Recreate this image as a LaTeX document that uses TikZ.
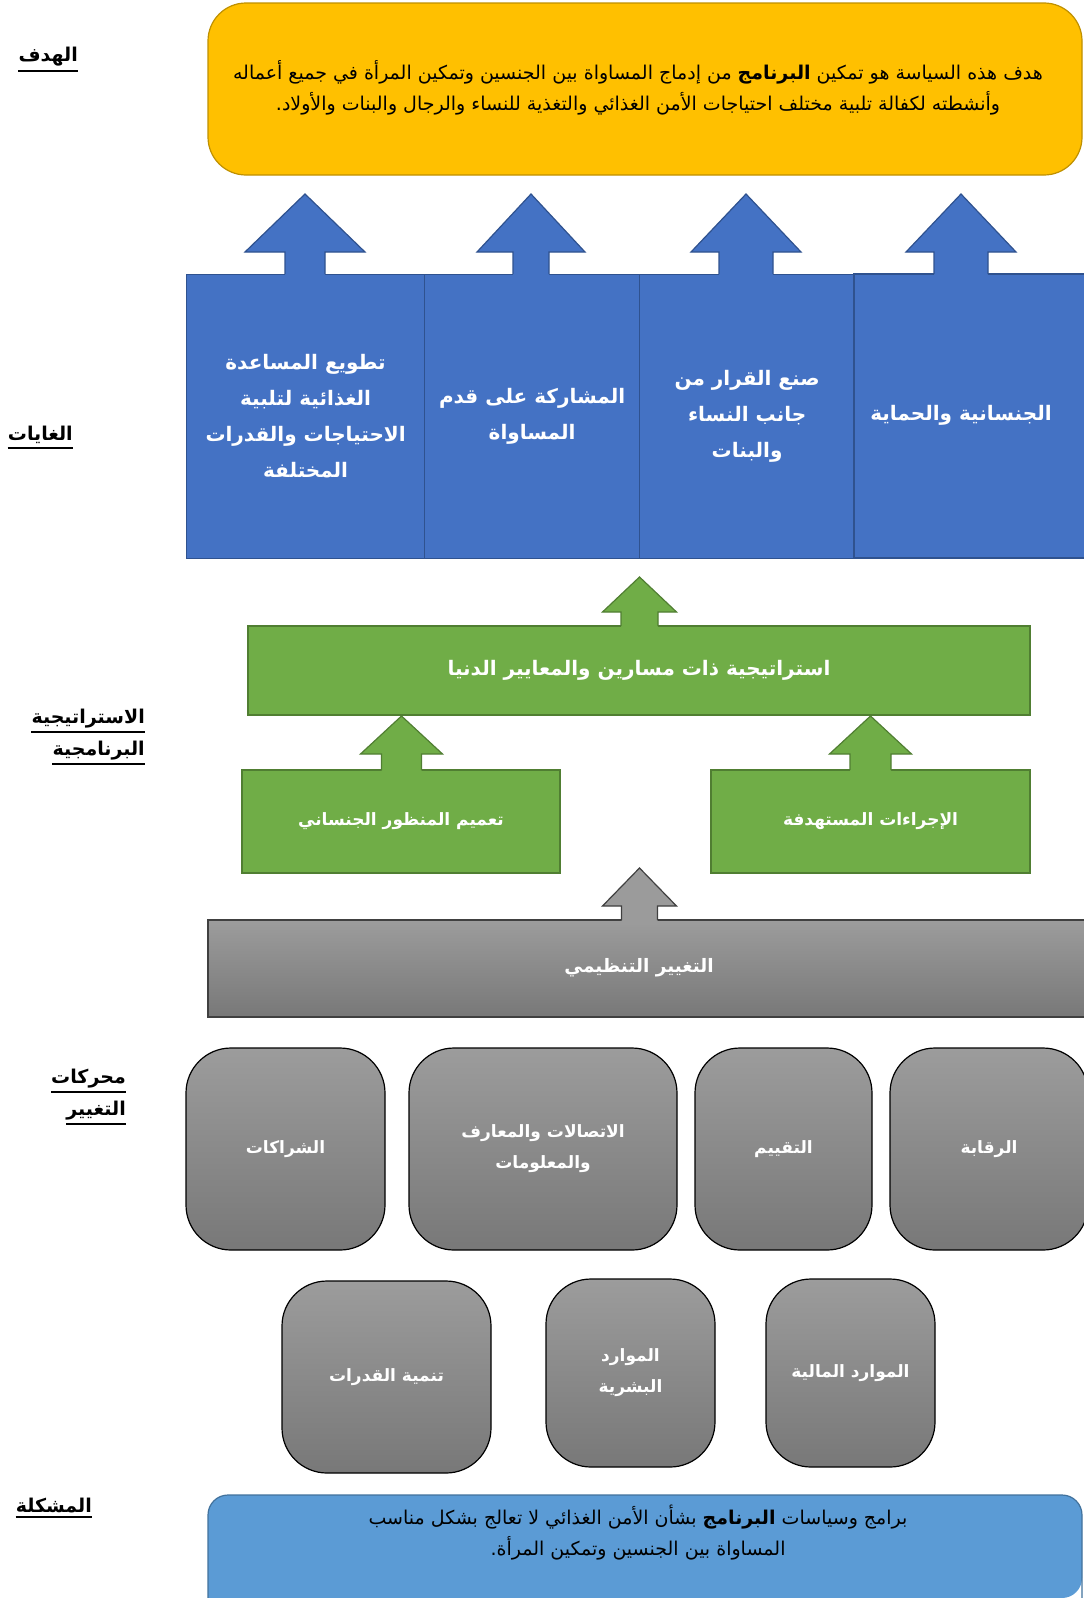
\documentclass[tikz,border=0pt]{standalone}
\usepackage{fontspec}
\newfontfamily\arabicfont[Script=Arabic]{DejaVu Sans}
\TeXXeTstate=1
\newcommand\arline[1]{\beginR#1\endR}
\definecolor{goalfill}{HTML}{FFC000}
\definecolor{goalline}{HTML}{BF9000}
\definecolor{colfill}{HTML}{4472C4}
\definecolor{colline}{HTML}{2F528F}
\definecolor{grfill}{HTML}{70AD47}
\definecolor{grline}{HTML}{507E32}
\definecolor{gtop}{HTML}{9C9C9C}
\definecolor{gbot}{HTML}{787878}
\definecolor{gline}{HTML}{404040}
\definecolor{probfill}{HTML}{5B9BD5}
\definecolor{probline}{HTML}{41719C}
\newcommand\uparrowblk[8]{%
 \fill[#1] (#3,#4) -- ({#3+#7},#5) -- ({#3+#8},#5) -- ({#3+#8},{#6+1.5}) -- ({#3-#8},{#6+1.5}) -- ({#3-#8},#5) -- ({#3-#7},#5) -- cycle;
 \draw[#2,line width=1.2pt,line join=miter] ({#3-#8},#6) -- ({#3-#8},#5) -- ({#3-#7},#5) -- (#3,#4) -- ({#3+#7},#5) -- ({#3+#8},#5) -- ({#3+#8},#6);
}
\tikzset{
 lbl/.style={font=\arabicfont\bfseries\fontsize{19}{23}\selectfont, inner sep=0pt, anchor=east},
 ul/.style={line width=2pt},
 goalbox/.style={fill=goalfill, draw=goalline, line width=1.2pt, rounded corners=38pt},
 probbox/.style={fill=probfill, draw=probline, line width=1.2pt, rounded corners=20pt},
 bodytxt/.style={font=\arabicfont\fontsize{19}{31}\selectfont, align=center, inner sep=0pt, text=black},
 colbox/.style={fill=colfill, draw=colline, line width=1.2pt, inner sep=0pt, anchor=north west, text=white,
   font=\arabicfont\bfseries\fontsize{20}{36}\selectfont, align=center},
 greenbox/.style={fill=grfill, draw=grline, line width=1.2pt, inner sep=0pt, text=white,
   font=\arabicfont\bfseries\fontsize{17}{30}\selectfont, align=center},
 drvbox/.style={top color=gtop, bottom color=gbot, draw=black, line width=1.2pt, inner sep=0pt,
   rounded corners=45pt, text=white, font=\arabicfont\bfseries\fontsize{17}{31}\selectfont, align=center},
 whitetxt/.style={text=white, inner sep=0pt, align=center},
}
\begin{document}
\begin{tikzpicture}[x=1pt,y=-1pt]
\useasboundingbox (0,0) rectangle (1084,1598);
\begin{scope}
\clip (0,0) rectangle (1084,1598);

% ---------- left labels
\node[lbl] (lHadaf) at (78,57) {\arline{الهدف}};
\draw[ul] ([yshift=-4pt]lHadaf.south west) -- ([yshift=-4pt]lHadaf.south east);
\node[lbl] (lGhayat) at (73,435) {\arline{الغايات}};
\draw[ul] ([yshift=-4pt]lGhayat.south west) -- ([yshift=-4pt]lGhayat.south east);
\node[lbl] (lStrat1) at (145,719) {\arline{الاستراتيجية}};
\draw[ul] ([yshift=-3pt]lStrat1.south west) -- ([yshift=-3pt]lStrat1.south east);
\node[lbl] (lStrat2) at (145,751) {\arline{البرنامجية}};
\draw[ul] ([yshift=-3pt]lStrat2.south west) -- ([yshift=-3pt]lStrat2.south east);
\node[lbl] (lDrv1) at (126,1079) {\arline{محركات}};
\draw[ul] ([yshift=-3pt]lDrv1.south west) -- ([yshift=-3pt]lDrv1.south east);
\node[lbl] (lDrv2) at (126,1111) {\arline{التغيير}};
\draw[ul] ([yshift=-3pt]lDrv2.south west) -- ([yshift=-3pt]lDrv2.south east);
\node[lbl] (lProb) at (92,1505) {\arline{المشكلة}};
\draw[ul] ([yshift=-4pt]lProb.south west) -- ([yshift=-4pt]lProb.south east);

% ---------- goal
\draw[goalbox] (208,3) rectangle (1082,175);
\node[bodytxt] (goal) at (638,88) {\arline{هدف هذه السياسة هو تمكين {\bfseries البرنامج} من إدماج المساواة بين الجنسين وتمكين المرأة في جميع أعماله}\\
\arline{وأنشطته لكفالة تلبية مختلف احتياجات الأمن الغذائي والتغذية للنساء والرجال والبنات والأولاد.}};

% ---------- goals columns
\node[colbox, minimum width=238pt, minimum height=284pt] (c1) at (186,274)
 {\arline{تطويع المساعدة}\\\arline{الغذائية لتلبية}\\\arline{الاحتياجات والقدرات}\\\arline{المختلفة}};
\node[colbox, minimum width=215pt, minimum height=284pt] (c2) at (424,274)
 {\arline{المشاركة على قدم}\\\arline{المساواة}};
\node[colbox, minimum width=215pt, minimum height=284pt] (c3) at (639,274)
 {\arline{صنع القرار من}\\\arline{جانب النساء}\\\arline{والبنات}};
\fill[colfill] (854,274) rectangle (1084,558);
\draw[colline, line width=1.2pt] (1084,274) -- (854,274) -- (854,558) -- (1084,558);
\node[whitetxt, font=\arabicfont\bfseries\fontsize{20}{36}\selectfont] (c4) at (961,415) {\arline{الجنسانية والحماية}};

\uparrowblk{colfill}{colline}{305}{194}{252}{274}{60}{20}
\uparrowblk{colfill}{colline}{531}{194}{252}{274}{54}{18}
\uparrowblk{colfill}{colline}{746}{194}{252}{274}{55}{27}
\uparrowblk{colfill}{colline}{961}{194}{252}{274}{55}{27}

% ---------- strategy
\node[greenbox, font=\arabicfont\bfseries\fontsize{20}{30}\selectfont, minimum width=782pt, minimum height=89pt] (s0) at (639,670.5)
 {\arline{استراتيجية ذات مسارين والمعايير الدنيا}};
\node[greenbox, minimum width=318pt, minimum height=103pt] (s1) at (401,821.5)
 {\arline{تعميم المنظور الجنساني}};
\node[greenbox, minimum width=319pt, minimum height=103pt] (s2) at (870.5,821.5)
 {\arline{الإجراءات المستهدفة}};
\uparrowblk{grfill}{grline}{639.5}{577}{612}{626}{37}{18.5}
\uparrowblk{grfill}{grline}{401.5}{716}{754}{770}{41}{20}
\uparrowblk{grfill}{grline}{870.5}{716}{754}{770}{41}{20.5}

% ---------- organisational change
\shade[top color=gtop, bottom color=gbot] (208,920) rectangle (1084,1017);
\draw[gline, line width=1.2pt] (1084,920) -- (208,920) -- (208,1017) -- (1084,1017);
\node[whitetxt, font=\arabicfont\bfseries\fontsize{18.5}{30}\selectfont] (oc) at (639,968) {\arline{التغيير التنظيمي}};
\fill[gtop!97!gbot] (639.5,868) -- (676.5,906) -- (657.5,906) -- (657.5,921.5) -- (621.5,921.5) -- (621.5,906) -- (602.5,906) -- cycle;
\draw[gline,line width=1.2pt,line join=miter] (621.5,920) -- (621.5,906) -- (602.5,906) -- (639.5,868) -- (676.5,906) -- (657.5,906) -- (657.5,920);

% ---------- drivers
\node[drvbox, minimum width=199pt, minimum height=202pt] (d1) at (285.5,1149) {\arline{الشراكات}};
\node[drvbox, minimum width=268pt, minimum height=202pt] (d2) at (543,1149) {\arline{الاتصالات والمعارف}\\\arline{والمعلومات}};
\node[drvbox, minimum width=177pt, minimum height=202pt] (d3) at (783.5,1149) {\arline{التقييم}};
\node[drvbox, minimum width=198pt, minimum height=202pt] (d4) at (989,1149) {\arline{الرقابة}};
\node[drvbox, minimum width=209pt, minimum height=192pt] (e1) at (386.5,1377) {\arline{تنمية القدرات}};
\node[drvbox, minimum width=169pt, minimum height=188pt] (e2) at (630.5,1373) {\arline{الموارد}\\\arline{البشرية}};
\node[drvbox, minimum width=169pt, minimum height=188pt] (e3) at (850.5,1373) {\arline{الموارد المالية}};

% ---------- problem
\fill[probfill, rounded corners=20pt] (208,1598) -- (208,1495) -- (1082,1495) -- (1082,1598) [sharp corners] -- cycle;
\draw[probline, line width=1.2pt, rounded corners=20pt] (208,1598) -- (208,1495) -- (1082,1495) -- (1082,1598);
\node[bodytxt] (prob) at (638,1533) {\arline{برامج وسياسات {\bfseries البرنامج} بشأن الأمن الغذائي لا تعالج بشكل مناسب}\\
\arline{المساواة بين الجنسين وتمكين المرأة.}};
\end{scope}
\end{tikzpicture}
\end{document}
